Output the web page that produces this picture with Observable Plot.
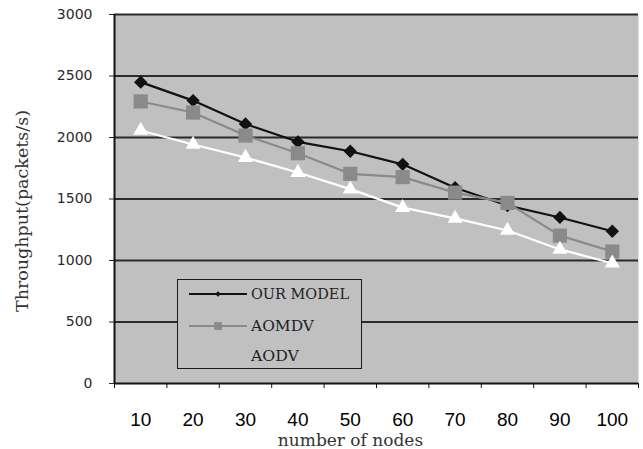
<!DOCTYPE html>
<html>
<head>
<meta charset="utf-8">
<script src="https://cdn.jsdelivr.net/npm/d3@7"></script>
<script src="https://cdn.jsdelivr.net/npm/@observablehq/plot@0.6"></script>
<style>
  html, body { margin: 0; padding: 0; background: #fff; }
  #wrap { position: relative; width: 643px; height: 449px; overflow: hidden; }
  #legend { position: absolute; left: 177px; top: 279px; width: 183px; height: 88px;
            border: 1.5px solid #1a1a1a; background: #c0c0c0; }
</style>
</head>
<body>
<div id="wrap"></div>
<script>
const categories = [10, 20, 30, 40, 50, 60, 70, 80, 90, 100];
const ourModel = [2450, 2300, 2110, 1965, 1888, 1782, 1592, 1447, 1350, 1238];
const aomdv    = [2293, 2203, 2016, 1872, 1705, 1678, 1552, 1468, 1202, 1073];
const aodv     = [2057, 1943, 1837, 1715, 1580, 1430, 1342, 1244, 1090, 978];
const yTicks = [0, 500, 1000, 1500, 2000, 2500, 3000];
const seriesNames = ["OUR MODEL", "AOMDV", "AODV"];
const xLabel = "number of nodes";
const yLabel = "Throughput(packets/s)";

const step = categories[1] - categories[0];
const boundaries = [...categories.map(c => c - step / 2), categories[categories.length - 1] + step / 2];
const toRows = vals => categories.map((c, i) => ({x: c, y: vals[i]}));
const dOur = toRows(ourModel), dAom = toRows(aomdv), dAodv = toRows(aodv);

const styles = [
  {stroke: "#111", fill: "#111", symbol: "diamond2", r: 6},
  {stroke: "#8a8a8a", fill: "#8a8a8a", symbol: "square", r: 8},
  {stroke: "#ffffff", fill: "#ffffff", symbol: "triangle", r: 5.6}
];
const sets = [dOur, dAom, dAodv];

const chart = Plot.plot({
  width: 643, height: 449,
  marginLeft: 114, marginRight: 5, marginTop: 14, marginBottom: 66,
  x: {domain: [boundaries[0], boundaries[boundaries.length - 1]], axis: null},
  y: {domain: [0, 3000], axis: null},
  style: {background: "#fff"},
  marks: [
    Plot.frame({fill: "#c0c0c0", stroke: "none"}),
    Plot.ruleY(yTicks.slice(1), {stroke: "#2b2b2b", strokeWidth: 2}),
    Plot.axisY(yTicks, {tickSize: 5, tickPadding: 17, fontSize: 14, fontFamily: "DejaVu Sans", tickFormat: d => String(d), color: "#2a2a2a", label: null}),
    Plot.axisX(boundaries, {tickSize: 5, tickFormat: () => "", color: "#111", label: null}),
    Plot.axisX(categories, {tickSize: 0, tickPadding: 29, fontSize: 19, fontFamily: "Liberation Sans", color: "#000", label: null}),
    Plot.ruleY([0], {stroke: "#111", strokeWidth: 2}),
    Plot.ruleX([boundaries[0]], {stroke: "#111", strokeWidth: 2}),
    ...sets.map((d, i) => Plot.line(d, {x: "x", y: "y", stroke: styles[i].stroke, strokeWidth: 2.2})),
    ...sets.map((d, i) => Plot.dot(d, {x: "x", y: "y", symbol: styles[i].symbol, r: styles[i].r, fill: styles[i].fill, stroke: "none"})),
    Plot.text([yLabel], {frameAnchor: "left", textAnchor: "middle", dx: -92, dy: 12, rotate: -90, fontSize: 17.5, fontFamily: "DejaVu Serif", fill: "#333"}),
    Plot.text([xLabel], {frameAnchor: "bottom", lineAnchor: "middle", dx: -26, dy: 57, fontSize: 17, fontFamily: "DejaVu Serif", fill: "#333"})
  ]
});
const wrap = document.getElementById("wrap");
wrap.appendChild(chart);

// legend
const leg = document.createElement("div");
leg.id = "legend";
const svg = d3.create("svg").attr("width", 183).attr("height", 88);
const rowsY = [14, 46, 76];
const textLen = [98, 63, 48];
const symMap = {diamond2: d3.symbolDiamond2, square: d3.symbolSquare, triangle: d3.symbolTriangle};
seriesNames.forEach((name, i) => {
  const g = svg.append("g");
  if (i < 2) {
    g.append("line").attr("x1", 11).attr("x2", 69).attr("y1", rowsY[i]).attr("y2", rowsY[i])
      .attr("stroke", styles[i].stroke).attr("stroke-width", 2);
    const sz = i === 0 ? 20 : 60;
    g.append("path").attr("d", d3.symbol(symMap[styles[i].symbol], sz)())
      .attr("transform", `translate(40,${rowsY[i]})`).attr("fill", styles[i].fill);
  }
  g.append("text").attr("x", 73).attr("y", rowsY[i]).attr("dy", "0.36em")
    .attr("font-family", "DejaVu Serif").attr("font-size", 15).attr("fill", "#222")
    .attr("textLength", textLen[i]).attr("lengthAdjust", "spacingAndGlyphs")
    .text(name);
});
leg.appendChild(svg.node());
wrap.appendChild(leg);
</script>
</body>
</html>
